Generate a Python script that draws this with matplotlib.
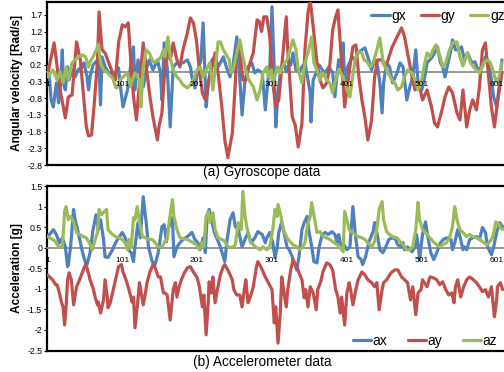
import matplotlib
matplotlib.use('Agg')
import matplotlib.pyplot as plt
from matplotlib.lines import Line2D
from matplotlib.ticker import FormatStrFormatter

plt.rcParams['font.family'] = ['Liberation Sans', 'DejaVu Sans']
plt.rcParams['axes.unicode_minus'] = False

# ---- gyroscope data (sample index, value) ----
gx_pts = [(1, 0.14), (4, -0.25), (6, -0.85), (9, -1.06), (13, -0.34), (16, -0.94), (18, -0.55), (21, 0.65),
          (22, -0.34), (25, -0.55), (28, 0.14), (30, -0.25), (34, 0.05), (38, -0.16), (42, 0.05), (48, 0.14),
          (50, 0.26), (54, -0.16), (56, -0.55), (58, -0.16), (62, 0.20), (68, 0.35), (69, 0.65), (72, -1.00),
          (74, 0.44), (78, 0.14), (82, -0.01), (88, -0.10), (92, -0.01), (96, 0.11), (98, -0.34), (102, -1.06),
          (108, -0.55), (112, 0.14), (116, 0.74), (118, -0.55), (122, 0.35), (125, -0.04), (129, -0.46),
          (134, 0.14), (137, 0.35), (142, 0.05), (148, 0.35), (152, -0.04), (154, -0.85), (157, 0.86),
          (161, 0.14), (165, -1.66), (169, 0.14), (174, 0.26), (182, 0.26), (188, 0.35), (192, 0.14),
          (194, -0.16), (198, -0.49), (202, 0.05), (206, 0.35), (209, 1.46), (213, -1.06), (216, -0.34),
          (221, 0.35), (225, 0.44), (229, 0.14), (232, 0.26), (236, 0.44), (240, 0.14), (245, -0.16),
          (249, 0.20), (254, 1.04), (257, 0.14), (261, -1.30), (265, -0.25), (269, 0.14), (274, 0.26),
          (278, -0.04), (282, 0.05), (288, -0.04), (292, -1.15), (296, -0.16), (298, 0.14), (301, 1.94),
          (304, 0.05), (306, -1.66), (309, -0.64), (313, 0.14), (317, 0.26), (320, -0.01), (322, 0.14),
          (326, 0.20), (329, 0.56), (333, 0.05), (337, -0.01), (341, 0.14), (345, 0.26), (349, -0.25),
          (352, -0.64), (353, -1.51), (356, -0.25), (360, -0.04), (364, 0.20), (368, 0.05), (372, -0.04),
          (377, 0.14), (382, -0.04), (385, -0.76), (388, -0.04), (390, 0.35), (393, 0.14), (396, 0.86),
          (398, -0.34), (402, 0.14), (408, 0.44), (412, 0.35), (416, 0.56), (421, 0.65), (425, 0.71),
          (429, 0.44), (434, 0.05), (438, 0.35), (442, 0.14), (445, -0.34), (448, -1.24), (450, -0.34),
          (454, 0.26), (458, 0.14), (462, -0.34), (468, -0.04), (472, 0.26), (476, 0.14), (481, -0.85),
          (485, -0.46), (489, -0.16), (493, 0.65), (496, -0.34), (501, -0.55), (505, -0.16), (508, 0.26),
          (514, 0.41), (518, 0.56), (522, 0.74), (526, 0.26), (529, 0.14), (532, -0.16), (536, 0.26),
          (540, 0.65), (542, 0.95), (546, 0.65), (550, 0.65), (554, 0.74), (558, 0.35), (562, 0.56),
          (568, 0.26), (572, 0.29), (576, 0.05), (582, 0.14), (586, 0.44), (590, 0.26), (594, -0.25),
          (597, -0.76), (601, -1.06), (605, -0.34), (608, 0.35)]

gy_pts = [(2, -0.01), (10, 0.86), (18, -0.55), (25, -1.39), (29, -0.76), (34, -0.70), (40, 0.89), (45, 0.35),
          (49, -0.64), (53, -1.66), (56, -1.93), (60, -1.90), (64, -0.85), (68, 0.35), (70, 1.79), (74, 0.65),
          (78, 0.56), (85, 0.14), (92, -0.25), (96, 0.86), (101, 1.40), (105, 1.34), (109, 1.46), (113, 0.14),
          (116, -0.76), (120, -1.45), (122, -0.85), (126, 0.14), (129, 0.86), (133, 0.14), (138, -0.76),
          (142, -1.36), (148, -2.05), (150, -1.66), (154, -1.24), (158, 0.14), (161, 0.65), (165, 0.35),
          (169, 0.86), (174, 0.35), (178, 0.14), (182, 0.65), (188, 1.16), (192, 1.61), (196, 1.46),
          (200, 0.95), (204, 0.05), (208, -0.64), (212, -0.85), (216, -0.34), (221, 0.14), (225, 0.56),
          (229, -0.04), (234, -1.06), (238, -2.05), (242, -2.58), (248, -1.84), (252, -0.34), (254, 0.65),
          (257, 0.86), (262, -0.25), (266, -0.25), (270, 0.14), (276, 0.56), (281, 1.55), (284, 1.50),
          (287, 1.20), (290, 1.64), (294, 1.64), (298, 1.04), (302, -0.34), (306, -1.06), (310, -0.85),
          (316, 0.65), (320, 1.64), (322, 0.65), (328, -1.36), (332, -1.60), (336, -2.26), (341, -1.54),
          (345, 0.65), (349, 1.76), (352, 2.15), (356, 1.34), (361, 0.26), (365, -0.25), (369, -0.49),
          (374, -0.34), (378, 0.14), (382, 1.25), (386, 1.64), (389, 1.85), (393, 0.56), (396, -0.34),
          (398, -1.06), (401, -0.55), (405, 0.14), (409, 0.74), (413, 0.80), (417, -0.16), (421, -0.85),
          (425, -1.36), (429, -2.05), (434, -1.45), (438, -0.16), (442, 0.35), (448, 0.35), (452, 0.14),
          (456, 0.35), (461, 0.71), (468, 1.04), (474, 1.31), (478, 1.04), (482, 0.56), (488, -0.16),
          (492, -0.55), (497, -0.34), (502, -0.85), (508, -0.55), (514, -1.06), (518, -1.54), (522, -1.66),
          (528, -1.15), (532, -0.76), (537, -0.46), (542, -0.64), (548, -1.24), (552, -1.45), (556, -0.55),
          (561, -1.66), (565, -1.15), (569, -0.85), (574, -1.15), (578, -0.46), (582, 0.65), (586, 0.86),
          (589, 0.14), (594, -1.06), (598, -1.66), (602, -0.94), (608, -0.04)]

gz_pts = [(1, -0.04), (2, -0.16), (8, 0.05), (10, -0.01), (14, -0.25), (18, -0.01), (22, -0.34), (26, 0.14),
          (29, -0.25), (32, 0.05), (34, 0.26), (38, 0.35), (42, 0.44), (48, 0.50), (52, 0.44), (56, 0.14),
          (58, 0.29), (62, 0.44), (65, 0.59), (68, 0.74), (69, 0.80), (72, 0.26), (76, 0.05), (80, -0.01),
          (84, -0.10), (88, -0.19), (92, -0.46), (94, -0.49), (98, -0.25), (102, -0.16), (108, -0.04),
          (112, -0.46), (116, -0.16), (118, -0.04), (124, -0.25), (126, -1.06), (129, 0.14), (133, 0.65),
          (137, 0.56), (142, 0.29), (146, 0.29), (152, 0.41), (156, 0.65), (158, 0.44), (162, 1.04),
          (165, 0.44), (169, 0.05), (174, -0.16), (178, -0.25), (182, -0.40), (188, -0.49), (192, -0.40),
          (196, -0.25), (201, 0.05), (205, 0.14), (209, -0.16), (213, 0.05), (218, 0.26), (222, -0.55),
          (225, 0.05), (229, 0.89), (232, 0.89), (236, 0.65), (240, 0.50), (244, 0.35), (246, -0.04),
          (250, 0.14), (254, 0.56), (258, 0.95), (262, 0.44), (266, 0.05), (270, -0.25), (276, -0.46),
          (281, -0.85), (285, -0.55), (289, -0.04), (294, 0.14), (296, -0.16), (300, 0.05), (302, -0.40),
          (308, 0.14), (312, -0.04), (316, 0.20), (321, 0.35), (325, 0.65), (329, 0.95), (333, 0.65),
          (336, 0.05), (341, -0.34), (345, 0.26), (349, 0.56), (354, 1.04), (357, 0.26), (361, 0.05),
          (365, -0.25), (369, -0.04), (374, -0.25), (378, -0.34), (382, -0.64), (386, -0.25), (390, 0.05),
          (396, -0.16), (401, -0.55), (405, -0.76), (408, -0.25), (412, 0.35), (416, 0.59), (421, 0.56),
          (424, 0.35), (428, 0.29), (432, 0.14), (436, 0.26), (441, 0.65), (445, 1.01), (449, 0.35),
          (452, 0.14), (456, -0.04), (461, -0.25), (465, -0.34), (469, -0.55), (474, -0.46), (478, -0.16),
          (482, 0.05), (488, -0.04), (492, -0.25), (496, -0.55), (500, -0.34), (504, 0.14), (508, 0.56),
          (512, 0.44), (516, 0.65), (520, 0.80), (526, 0.41), (529, 0.14), (533, 0.26), (538, 0.65),
          (542, 0.86), (548, 0.89), (552, 0.44), (556, 0.17), (560, 0.44), (562, 0.56), (566, 0.26),
          (570, 0.14), (574, 0.05), (578, -0.04), (584, 0.26), (588, 0.35), (592, 0.29), (596, 0.05),
          (600, -0.31), (604, -0.16), (608, 0.26)]

# ---- accelerometer data ----
ax_pts = [(1, 0.30), (4, 0.32), (9, 0.44), (13, 0.32), (17, 0.12), (21, 0.24), (25, 0.02), (28, -0.46),
          (29, -0.41), (32, 0.02), (36, 0.93), (38, 0.68), (42, 0.39), (48, -0.12), (52, -0.37), (54, -0.41),
          (58, -0.12), (62, 0.44), (66, 0.80), (69, 0.44), (72, 0.68), (76, 0.20), (78, -0.22), (82, -0.24),
          (88, -0.05), (92, 0.12), (96, 0.24), (101, 0.37), (105, 0.24), (109, -0.05), (113, -0.12),
          (116, -0.34), (118, 0.02), (122, 0.61), (125, 0.24), (129, 1.24), (133, 0.61), (136, 0.02),
          (141, -0.34), (145, -0.41), (149, -0.12), (154, 0.51), (157, 0.56), (160, 0.15), (162, 0.44),
          (168, 0.73), (170, -0.22), (174, 0.02), (178, 0.12), (182, 0.20), (188, 0.27), (194, 0.37),
          (198, 0.20), (202, 0.12), (205, -0.05), (209, 0.24), (212, -0.12), (214, 0.68), (217, 0.93),
          (221, 0.61), (224, 0.37), (228, 0.20), (232, 0.02), (236, -0.22), (238, -0.34), (241, 0.20),
          (245, 0.68), (249, 0.85), (252, 0.51), (256, 0.44), (261, 0.02), (265, 0.20), (269, 0.37),
          (273, 0.12), (278, 0.24), (282, 0.39), (288, 0.32), (292, 0.12), (294, 0.24), (298, 0.37),
          (302, 0.12), (305, -0.24), (308, 0.02), (310, 0.37), (314, 0.63), (317, 0.37), (321, 0.02),
          (324, -0.05), (328, -0.22), (329, -0.29), (334, -0.54), (337, -0.22), (341, 0.44), (344, 0.61),
          (348, 0.76), (350, 0.44), (354, 0.02), (357, -0.34), (361, -0.37), (364, 0.02), (368, 0.32),
          (372, 0.37), (376, 0.32), (381, 0.39), (385, 0.32), (388, 0.12), (390, 0.32), (394, -0.05),
          (397, 0.07), (401, -0.05), (405, 0.02), (409, 1.00), (412, 0.37), (416, -0.22), (420, -0.29),
          (422, -0.41), (426, -0.22), (430, 0.12), (436, 0.39), (438, 0.61), (441, 0.37), (445, -0.05),
          (449, -0.12), (453, 0.02), (457, 0.20), (462, 0.24), (466, 0.20), (469, 0.07), (473, 0.02),
          (476, 0.12), (478, -0.05), (482, 0.02), (488, -0.10), (492, 0.02), (494, 0.32), (497, -0.05),
          (498, -0.29), (502, 0.32), (506, 0.63), (509, 0.27), (513, -0.12), (517, -0.29), (521, -0.12),
          (526, 0.12), (530, 0.20), (534, 0.24), (540, 0.20), (542, -0.05), (545, 0.12), (549, 0.44),
          (552, 0.27), (556, -0.05), (558, 0.02), (561, -0.05), (565, 0.20), (569, 0.24), (574, 0.27),
          (578, 0.20), (582, 0.49), (586, 0.37), (589, 0.02), (594, -0.17), (597, 0.02), (601, 0.37),
          (605, 0.61), (609, 0.51)]

ay_pts = [(1, -0.66), (8, -0.78), (12, -0.90), (14, -0.90), (17, -1.10), (20, -1.34), (22, -1.44), (24, -1.88),
          (26, -1.44), (28, -0.78), (30, -0.61), (33, -0.78), (36, -1.39), (40, -0.95), (44, -0.78),
          (49, -0.54), (52, -0.41), (54, -0.49), (58, -0.78), (62, -0.98), (65, -1.22), (68, -1.39),
          (69, -1.32), (72, -1.59), (76, -1.27), (78, -0.78), (81, -1.20), (82, -1.46), (85, -1.34),
          (89, -1.02), (92, -0.78), (96, -0.46), (100, -0.41), (102, -0.59), (106, -0.78), (110, -1.02),
          (114, -1.32), (116, -1.20), (118, -1.95), (121, -1.44), (124, -0.85), (126, -1.07), (129, -1.39),
          (132, -1.10), (134, -0.85), (138, -0.59), (142, -0.41), (145, -0.49), (149, -0.71), (152, -0.71),
          (156, -1.10), (158, -1.10), (161, -1.15), (165, -1.76), (169, -1.02), (172, -0.85), (174, -1.20),
          (177, -0.95), (180, -0.78), (184, -0.61), (188, -0.49), (192, -0.46), (196, -0.59), (201, -0.73),
          (204, -0.95), (208, -1.44), (210, -1.15), (213, -2.12), (216, -1.27), (217, -0.83), (220, -1.10),
          (222, -0.71), (225, -1.34), (228, -1.02), (232, -0.66), (236, -0.46), (238, -0.41), (242, -0.54),
          (248, -0.78), (250, -1.02), (254, -1.15), (258, -1.15), (261, -1.44), (264, -1.02), (266, -0.78),
          (269, -1.34), (272, -1.20), (276, -0.95), (280, -0.49), (282, -0.34), (286, -0.46), (292, -0.71),
          (296, -0.85), (301, -1.02), (304, -1.83), (306, -1.44), (309, -2.32), (312, -1.59), (314, -0.71),
          (317, -1.10), (320, -1.44), (322, -1.02), (326, -0.54), (329, -0.29), (334, -0.46), (337, -0.61),
          (341, -0.78), (344, -1.22), (346, -1.02), (349, -1.44), (352, -0.95), (356, -1.10), (360, -1.51),
          (362, -1.02), (366, -0.83), (369, -0.59), (374, -0.37), (378, -0.41), (382, -0.54), (386, -1.02),
          (389, -1.20), (392, -1.59), (394, -1.20), (398, -1.88), (401, -1.10), (404, -0.85), (406, -1.02),
          (409, -1.39), (413, -1.02), (416, -0.78), (421, -0.59), (425, -0.66), (429, -0.78), (434, -0.85),
          (438, -0.95), (441, -0.85), (444, -1.51), (448, -1.02), (450, -0.85), (454, -0.78), (460, -0.61),
          (465, -0.54), (469, -0.54), (474, -0.71), (478, -0.78), (482, -0.85), (486, -1.27), (489, -0.95),
          (493, -1.63), (496, -1.10), (500, -1.02), (502, -0.78), (508, -0.95), (512, -0.71), (516, -0.73),
          (521, -0.78), (525, -0.90), (529, -0.83), (533, -1.02), (537, -1.15), (541, -1.10), (544, -1.34),
          (546, -0.95), (549, -0.78), (553, -1.20), (557, -0.95), (561, -0.78), (565, -0.71), (570, -0.78),
          (574, -0.85), (578, -0.95), (582, -1.07), (586, -1.02), (590, -1.20), (594, -0.95), (598, -1.68),
          (601, -1.27), (602, -0.95), (606, -0.85), (609, -1.02)]

az_pts = [(1, 0.27), (8, 0.20), (12, 0.15), (14, 0.07), (18, 0.02), (21, 0.02), (24, 0.88), (26, 1.00),
          (29, 0.68), (32, 0.76), (36, 0.63), (40, 0.37), (44, 0.32), (49, 0.27), (53, 0.24), (57, 0.12),
          (61, -0.05), (64, 0.15), (68, 0.37), (70, 0.93), (73, 0.80), (77, 0.88), (80, 0.93), (82, 0.44),
          (88, 0.32), (92, 0.27), (96, 0.24), (101, 0.20), (105, 0.12), (108, -0.05), (110, 0.20),
          (113, 0.00), (116, 0.73), (118, 0.68), (121, 1.00), (124, 0.61), (128, 0.27), (132, 0.24),
          (136, 0.20), (141, 0.20), (145, 0.12), (149, 0.02), (154, 0.02), (158, 0.15), (161, 0.20),
          (164, 0.68), (168, 1.17), (170, 0.76), (174, 0.44), (178, 0.24), (188, 0.20), (196, 0.12),
          (200, 0.07), (204, -0.05), (208, 0.12), (210, 0.02), (213, 0.76), (216, 0.88), (218, 0.61),
          (222, 0.85), (225, 0.44), (229, 0.24), (234, 0.20), (238, 0.15), (242, 0.02), (248, 0.00),
          (252, 0.07), (256, 0.61), (260, 0.44), (262, 1.37), (265, 0.76), (268, 0.44), (272, 0.15),
          (276, 0.07), (281, 0.00), (285, -0.05), (289, 0.02), (294, -0.05), (298, 0.02), (302, 0.44),
          (305, 0.93), (308, 0.76), (309, 1.05), (313, 0.76), (316, 0.44), (321, 0.24), (325, 0.15),
          (329, 0.07), (334, 0.02), (338, -0.05), (342, 0.02), (345, 0.12), (348, 0.51), (352, 0.76),
          (354, 1.10), (358, 0.68), (361, 0.37), (365, 0.39), (369, 0.27), (374, 0.24), (378, 0.20),
          (382, 0.15), (388, 0.07), (392, 0.02), (396, -0.10), (398, 0.88), (401, 0.68), (404, 0.44),
          (408, 0.37), (412, 0.32), (416, 0.27), (421, 0.24), (425, 0.20), (429, 0.12), (434, 0.02),
          (438, 0.15), (441, 0.44), (444, 0.93), (448, 1.12), (450, 0.68), (454, 0.39), (458, 0.32),
          (462, 0.27), (468, 0.24), (472, 0.15), (476, 0.07), (481, -0.05), (485, -0.05), (489, 0.02),
          (493, 0.44), (496, 1.10), (498, 0.68), (502, 0.44), (508, 0.32), (512, 0.24), (516, 0.15),
          (521, 0.07), (525, 0.02), (529, 0.07), (534, 0.12), (538, 0.24), (542, 0.51), (545, 1.00),
          (548, 0.68), (552, 0.44), (556, 0.37), (561, 0.27), (565, 0.32), (569, 0.27), (574, 0.24),
          (578, 0.20), (582, 0.15), (588, 0.07), (592, 0.15), (596, 0.27), (600, 0.63), (604, 0.56),
          (606, 0.49), (609, 0.44)]

cat_ticks = [1, 101, 201, 301, 401, 501, 601]
cat_labels = ['1', '101', '201', '301', '401', '501', '601']
gyro_yticks = [-2.8, -2.3, -1.8, -1.3, -0.8, -0.3, 0.2, 0.7, 1.2, 1.7]
acc_yticks = [-2.5, -2, -1.5, -1, -0.5, 0, 0.5, 1, 1.5]

colors = ['#4F81BD', '#C0504D', '#9BBB59']

W, H = 504, 372
fig = plt.figure(figsize=(W / 100, H / 100), dpi=100)


def panel(rect, series, names, ylim, yticks, fmt, ylabel, leg_center, colsp):
    ax = fig.add_axes(rect)
    for pts, name, c in zip(series, names, colors):
        xs = [p[0] for p in pts]
        ys = [p[1] for p in pts]
        ax.plot(xs, ys, color=c, lw=2.3, label=name, zorder=3,
                solid_joinstyle='round', solid_capstyle='round')
    ax.set_xlim(0.5, 610.8)
    ax.set_ylim(*ylim)
    ax.set_yticks(yticks)
    ax.yaxis.set_major_formatter(FormatStrFormatter(fmt))
    ax.set_xticks(cat_ticks)
    ax.set_xticklabels(cat_labels)
    # category axis crosses at zero, like the spreadsheet chart
    ax.spines['bottom'].set_position(('data', 0))
    ax.spines['bottom'].set_color('#868686')
    ax.spines['bottom'].set_linewidth(1.2)
    ax.spines['right'].set_visible(False)
    for s in ('left', 'top'):
        ax.spines[s].set_linewidth(1.6)
        ax.spines[s].set_color('black')
    ax.add_artist(Line2D([0, 1], [0, 0], transform=ax.transAxes, color='black',
                         lw=1.6, clip_on=False))
    ax.xaxis.set_zorder(4)
    ax.tick_params(axis='x', length=0, pad=6.5, labelsize=6)
    ax.tick_params(axis='y', length=2, width=0.8, pad=1.5, labelsize=6.3)
    ax.set_ylabel(ylabel, fontsize=8.6, fontweight='bold')
    ax.yaxis.label.set_va('center')
    ax.yaxis.set_label_coords(-0.066, 0.5)
    ax.legend(ncol=3, loc='center', bbox_to_anchor=leg_center, bbox_transform=fig.transFigure,
              frameon=False, fontsize=10, handlelength=1.3, handletextpad=0.1,
              columnspacing=colsp, borderpad=0, borderaxespad=0)
    return ax


left = 47 / W
width = (W - 47) / W
panel([left, 1 - 165 / H, width, (165 - 1.5) / H], [gx_pts, gy_pts, gz_pts], ['gx', 'gy', 'gz'],
      (-2.8, 2.1), gyro_yticks, '%.1f', 'Angular velocity [Rad/s]', (438 / W, 1 - 16 / H), 1.1)
panel([left, 1 - 350.5 / H, width, (350.5 - 186) / H], [ax_pts, ay_pts, az_pts], ['ax', 'ay', 'az'],
      (-2.5, 1.5), acc_yticks, '%g', 'Acceleration [g]', (425 / W, 1 - 341 / H), 1.5)

fig.text(262 / W, 1 - 172 / H, '(a) Gyroscope data', ha='center', va='center', fontsize=9.8)
fig.text(262 / W, 1 - 362 / H, '(b) Accelerometer data', ha='center', va='center', fontsize=9.8)

fig.savefig('out.png', dpi=100)
